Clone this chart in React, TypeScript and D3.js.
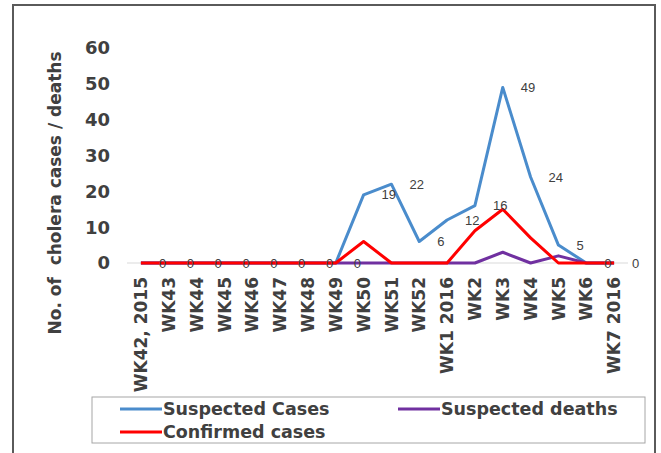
import React, { useEffect, useRef } from "react";
import * as d3 from "d3";

const weeks = [
  "WK42, 2015", "WK43", "WK44", "WK45", "WK46", "WK47", "WK48", "WK49",
  "WK50", "WK51", "WK52", "WK1 2016", "WK2", "WK3", "WK4", "WK5", "WK6", "WK7 2016",
];
const suspectedCases = [0, 0, 0, 0, 0, 0, 0, 0, 19, 22, 6, 12, 16, 49, 24, 5, 0, 0];
const suspectedDeaths = [0, 0, 0, 0, 0, 0, 0, 0, 0, 0, 0, 0, 0, 3, 0, 2, 0, 0];
const confirmedCases = [0, 0, 0, 0, 0, 0, 0, 0, 6, 0, 0, 0, 9, 15, 7, 0, 0, 0];
const yTicks = [0, 10, 20, 30, 40, 50, 60];

const series = [
  { name: "Suspected Cases", values: suspectedCases, color: "#4a8ccc" },
  { name: "Suspected deaths", values: suspectedDeaths, color: "#7030a0" },
  { name: "Confirmed cases", values: confirmedCases, color: "#ff0000" },
];

const W = 661;
const H = 453;
const txt = "#404040";
const font = "DejaVu Sans, Verdana, sans-serif";

export default function App() {
  const ref = useRef<SVGSVGElement>(null);

  useEffect(() => {
    const svg = d3.select(ref.current);
    svg.selectAll("*").remove();

    const x = d3.scalePoint<string>().domain(weeks).range([127, 628]).padding(0.5);
    const y = d3.scaleLinear().domain([0, 60]).range([263, 48]);

    // outer frame (bottom edge runs off the picture)
    svg.append("path")
      .attr("d", `M13,${H + 5} V5 H655 V${H + 5}`)
      .attr("fill", "none").attr("stroke", "#5a5a5a").attr("stroke-width", 2);

    // baseline
    svg.append("line")
      .attr("x1", 127).attr("x2", 628).attr("y1", y(0)).attr("y2", y(0))
      .attr("stroke", "#d9d9d9").attr("stroke-width", 1);

    // y tick labels
    svg.append("g").selectAll("text").data(yTicks).enter().append("text")
      .attr("x", 110).attr("y", (d) => y(d)).attr("dy", "0.36em")
      .attr("text-anchor", "end").attr("font-family", font)
      .attr("font-weight", "bold").attr("font-size", 18).attr("fill", txt)
      .text((d) => d);

    // y title
    svg.append("text")
      .attr("transform", "translate(55,193) rotate(-90)")
      .attr("text-anchor", "middle").attr("dy", "0.36em")
      .attr("font-family", font).attr("font-weight", "bold")
      .attr("font-size", 17).attr("fill", txt)
      .style("white-space", "pre")
      .text("No. of  cholera cases / deaths");

    // x labels, rotated
    svg.append("g").selectAll("text").data(weeks).enter().append("text")
      .attr("transform", (d) => `translate(${x(d)},277) rotate(-90)`)
      .attr("text-anchor", "end").attr("dy", "0.36em")
      .attr("font-family", font).attr("font-weight", "bold")
      .attr("font-size", 17).attr("fill", txt)
      .text((d) => d);

    const line = d3.line<number>()
      .x((d, i) => x(weeks[i]) as number)
      .y((d) => y(d));

    series.forEach((s) => {
      svg.append("path")
        .attr("d", line(s.values))
        .attr("fill", "none").attr("stroke", s.color)
        .attr("stroke-width", 3).attr("stroke-linejoin", "round");
    });

    // data labels for suspected cases
    svg.append("g").selectAll("text").data(suspectedCases).enter().append("text")
      .attr("x", (d, i) => (x(weeks[i]) as number) + 18)
      .attr("y", (d) => y(d)).attr("dy", "0.35em")
      .attr("font-family", "Liberation Sans, Arial, sans-serif")
      .attr("font-size", 13).attr("fill", txt)
      .text((d) => d);

    // legend
    const lg = svg.append("g");
    lg.append("rect")
      .attr("x", 92).attr("y", 397).attr("width", 553).attr("height", 46)
      .attr("fill", "white").attr("stroke", "#a6a6a6").attr("stroke-width", 1);
    const pos = [
      { x: 120, y: 409 },
      { x: 398, y: 409 },
      { x: 120, y: 432 },
    ];
    series.forEach((s, i) => {
      lg.append("line")
        .attr("x1", pos[i].x).attr("x2", pos[i].x + 42)
        .attr("y1", pos[i].y).attr("y2", pos[i].y)
        .attr("stroke", s.color).attr("stroke-width", 3);
      lg.append("text")
        .attr("x", pos[i].x + 43).attr("y", pos[i].y).attr("dy", "0.36em")
        .attr("font-family", font).attr("font-weight", "bold")
        .attr("font-size", 17.5).attr("fill", txt)
        .text(s.name);
    });
  }, []);

  return (
    <svg
      ref={ref}
      width={W}
      height={H}
      style={{ position: "absolute", left: 0, top: 0, display: "block" }}
    ></svg>
  );
}
